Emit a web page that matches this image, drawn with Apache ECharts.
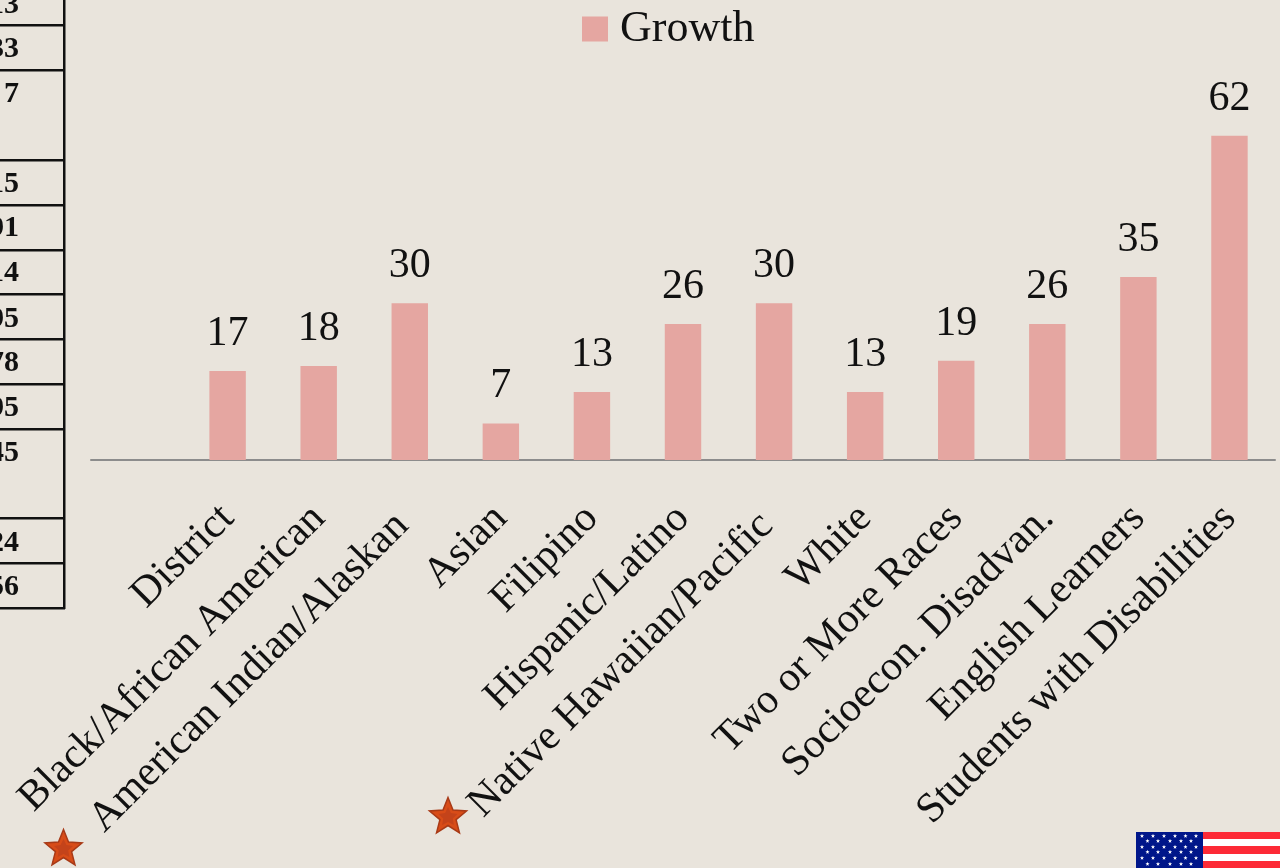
<!DOCTYPE html>
<html><head><meta charset="utf-8">
<style>html,body{margin:0;padding:0;background:#e9e4dc}#c{width:1280px;height:868px}</style>
<script src="https://cdn.jsdelivr.net/npm/echarts@6/dist/echarts.min.js"></script>
</head><body><div id="c"></div>
<script>
const categories = ["", "District", "Black/African American", "American Indian/Alaskan", "Asian", "Filipino", "Hispanic/Latino", "Native Hawaiian/Pacific", "White", "Two or More Races", "Socioecon. Disadvan.", "English Learners", "Students with Disabilities"];
const growth = [null, 17, 18, 30, 7, 13, 26, 30, 13, 19, 26, 35, 62];
const starred = ["American Indian/Alaskan", "Native Hawaiian/Pacific"];
const tableFragments = ["13", "33", "7", "15", "91", "14", "95", "78", "95", "45", "24", "56"];
const tableTextY = [5, 49, 94, 184, 228, 273, 319, 363, 408, 453, 543, 587];
const tableLinesY = [25, 70, 160, 205, 250, 294, 339, 384, 429, 518, 563, 608];
const SERIF = '"Liberation Serif", serif';

function starPoints(cx, cy, R, r) {
  const p = [];
  for (let i = 0; i < 10; i++) {
    const a = -Math.PI / 2 + i * Math.PI / 5, q = i % 2 ? r : R;
    p.push([cx + q * Math.cos(a), cy + q * Math.sin(a)]);
  }
  return p;
}
const g = [];
g.push({type:'rect',shape:{x:63,y:0,width:2.5,height:609},style:{fill:'#111'},silent:true});
tableLinesY.forEach(y=>g.push({type:'rect',shape:{x:0,y:y-1,width:65,height:2.5},style:{fill:'#111'},silent:true}));
tableFragments.forEach((t,i)=>g.push({type:'text',x:19,y:tableTextY[i],style:{text:t,fill:'#111',font:'bold 30px '+SERIF,textAlign:'right',textVerticalAlign:'middle'},silent:true}));
[[63.5,849],[448,817]].forEach(([x,y])=>{
  g.push({type:'polygon',shape:{points:starPoints(x,y,19.5,8.5)},style:{fill:'#d84c18',stroke:'#a83a17',lineWidth:1.5},silent:true});
  g.push({type:'polygon',shape:{points:starPoints(x,y,10,5)},style:{fill:'#c4431a'},silent:true});
});
const stripes=[[832,7,'#fd2a36'],[839,7,'#fff'],[846,8,'#fd2a36'],[854,7,'#fff'],[861,7,'#fd2a36']];
stripes.forEach(([y,h,c])=>g.push({type:'rect',shape:{x:1203,y,width:77,height:h},style:{fill:c},silent:true}));
g.push({type:'rect',shape:{x:1136,y:832,width:67,height:36},style:{fill:'#00168a'},silent:true});
const rowY=[836,841,847,852,858,864];
const colA=[1142,1153,1164,1175,1185.5,1196], colB=[1147.5,1158,1170,1181,1191];
rowY.forEach((y,i)=>(i%2?colB:colA).forEach(x=>g.push({type:'polygon',shape:{points:starPoints(x,y,2.2,0.9)},style:{fill:'#fff'},silent:true})));

const chart = echarts.init(document.getElementById('c'), null, {renderer:'canvas'});
chart.setOption({
  animation:false,
  backgroundColor:'#e9e4dc',
  textStyle:{fontFamily:SERIF},
  legend:{show:true,data:['Growth'],left:582,top:7,padding:0,itemWidth:26,itemHeight:25,icon:'rect',
    textStyle:{fontFamily:SERIF,fontSize:44,color:'#111',padding:[0,0,0,7]}},
  grid:{left:91,right:5,top:94,bottom:408,containLabel:false},
  xAxis:{type:'category',data:categories,
    axisLine:{show:true,lineStyle:{color:'#8c8c8c',width:2}},axisTick:{show:false},
    axisLabel:{interval:0,rotate:45,margin:52,fontFamily:SERIF,fontSize:42,color:'#111',
      formatter:v=>starred.includes(v)?v+' ':v}},
  yAxis:{type:'value',min:0,max:70,show:false,splitLine:{show:false}},
  series:[{name:'Growth',type:'bar',data:growth,barWidth:'40%',itemStyle:{color:'#e5a6a1'},
    label:{show:true,position:'top',distance:16,fontFamily:SERIF,fontSize:42,color:'#111'}}],
  graphic:g
});
</script></body></html>
